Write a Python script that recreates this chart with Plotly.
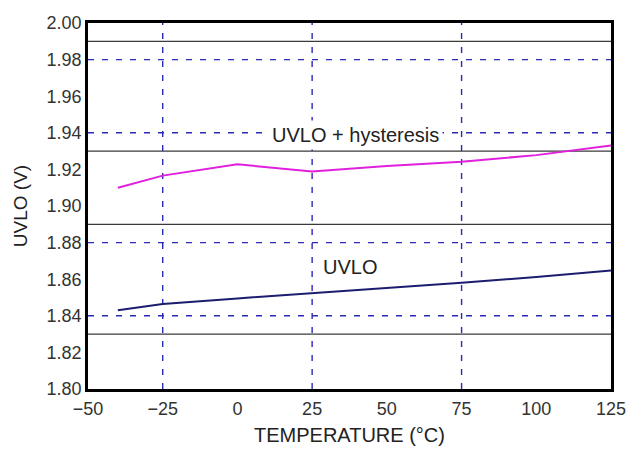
import plotly.graph_objects as go

# Data
temp_hyst = [-40, -25, 0, 25, 50, 75, 100, 125]
uvlo_hyst = [1.910, 1.9166, 1.9228, 1.9188, 1.9218, 1.9242, 1.9278, 1.9330]

temp_uvlo = [-40, -25, 0, 25, 50, 75, 100, 125]
uvlo_vals = [1.8430, 1.8464, 1.8495, 1.8523, 1.8553, 1.8581, 1.8612, 1.8647]

solid_hlines = [1.99, 1.93, 1.89, 1.83]
dashed_hlines = [1.98, 1.94, 1.88, 1.84]
dashed_vlines = [-25, 25, 75]

x_ticks = [-50, -25, 0, 25, 50, 75, 100, 125]
x_tick_text = ["\u221250", "\u221225", "0", "25", "50", "75", "100", "125"]
y_ticks = [1.80, 1.82, 1.84, 1.86, 1.88, 1.90, 1.92, 1.94, 1.96, 1.98, 2.00]
y_tick_text = ["1.80", "1.82", "1.84", "1.86", "1.88", "1.90", "1.92", "1.94", "1.96", "1.98", "2.00"]

labels = [
    dict(text="UVLO + hysteresis", x=39.5, y=1.9388, bg="white"),
    dict(text="UVLO", x=37.5, y=1.8667, bg="rgba(0,0,0,0)"),
]

DASH_COLOR = "#2a2ab8"
SOLID_COLOR = "#3a3a3a"
FAMILY = "Liberation Sans, Arial, sans-serif"

fig = go.Figure()

shapes = []
for y in solid_hlines:
    shapes.append(dict(type="line", xref="x", yref="y", x0=-50, x1=125, y0=y, y1=y,
                       line=dict(color=SOLID_COLOR, width=1.3), layer="below"))
for y in dashed_hlines:
    shapes.append(dict(type="line", xref="x", yref="y", x0=-50, x1=125, y0=y, y1=y,
                       line=dict(color=DASH_COLOR, width=1.4, dash="6px,8px"), layer="below"))
for x in dashed_vlines:
    shapes.append(dict(type="line", xref="x", yref="y", x0=x, x1=x, y0=1.80, y1=2.00,
                       line=dict(color=DASH_COLOR, width=1.4, dash="6px,8px"), layer="below"))

fig.add_trace(go.Scatter(x=temp_hyst, y=uvlo_hyst, mode="lines",
                         line=dict(color="#e020dc", width=2), showlegend=False))
fig.add_trace(go.Scatter(x=temp_uvlo, y=uvlo_vals, mode="lines",
                         line=dict(color="#1c1c70", width=2), showlegend=False))

annotations = []
for lab in labels:
    annotations.append(dict(text=lab["text"], x=lab["x"], y=lab["y"], xref="x", yref="y",
                            showarrow=False, bgcolor=lab["bg"], borderpad=3,
                            font=dict(family=FAMILY, size=20, color="#222")))

fig.update_layout(
    width=642, height=456,
    margin=dict(l=88, r=31, t=23, b=67),
    paper_bgcolor="white", plot_bgcolor="white",
    shapes=shapes, annotations=annotations,
    font=dict(family=FAMILY, size=18, color="#333"),
    xaxis=dict(range=[-50, 125], tickvals=x_ticks, ticktext=x_tick_text,
               showgrid=False, zeroline=False, showline=True, linecolor="black", linewidth=2.5,
               mirror=True, ticks="", ticklabelstandoff=2,
               tickfont=dict(family=FAMILY, size=18, color="#333"),
               title=dict(text="TEMPERATURE (\u00b0C)", standoff=10,
                          font=dict(family=FAMILY, size=20, color="#222"))),
    yaxis=dict(range=[1.80, 2.00], tickvals=y_ticks, ticktext=y_tick_text,
               showgrid=False, zeroline=False, showline=True, linecolor="black", linewidth=2.5,
               mirror=True, ticks="",
               tickfont=dict(family=FAMILY, size=18, color="#333"),
               title=dict(text="UVLO (V)", standoff=14,
                          font=dict(family=FAMILY, size=19, color="#222"))),
)

fig.write_html("out.html")
